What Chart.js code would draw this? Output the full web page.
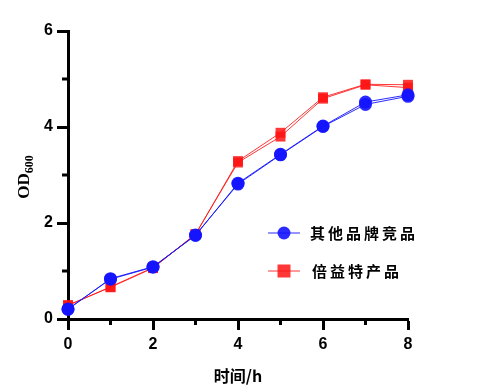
<!DOCTYPE html>
<html>
<head>
<meta charset="utf-8">
<script src="https://cdn.jsdelivr.net/npm/chart.js@4"></script>
<style>
  html, body { margin: 0; padding: 0; background: #fff; }
  #wrap { width: 502px; height: 390px; position: relative; }
</style>
</head>
<body>
<div id="wrap"><canvas id="growthChart" width="502" height="390"></canvas></div>
<script>
// time points (h)
const hours = [0, 1, 2, 3, 4, 5, 6, 7, 8];

// OD600 readings, two replicate curves per product
const otherBrandA = [0.21, 0.83, 1.08, 1.75, 2.81, 3.42, 4.01, 4.47, 4.64];
const otherBrandB = [0.20, 0.84, 1.09, 1.74, 2.83, 3.43, 4.02, 4.52, 4.67];
const beiyiteA = [0.29, 0.66, 1.06, 1.77, 3.26, 3.80, 4.59, 4.88, 4.82];
const beiyiteB = [0.28, 0.67, 1.07, 1.76, 3.29, 3.88, 4.62, 4.89, 4.88];

const seriesNames = ["其他品牌竞品", "倍益特产品"];
const blue = "rgba(20, 20, 255, 0.9)";
const red = "rgba(255, 20, 20, 0.85)";

const toPts = arr => arr.map((v, i) => ({ x: hours[i], y: v }));

function lineSet(label, arr, color, style, r) {
    return {
        label: label,
        data: toPts(arr),
        borderColor: color,
        backgroundColor: color,
        borderWidth: 1,
        pointStyle: style,
        pointRadius: r,
        pointBorderWidth: 0,
        clip: false
    };
}

// minor ticks and axis titles / legend drawn on the canvas
const decorations = {
    id: "decorations",
    afterDraw(chart) {
        const ctx = chart.ctx;
        const xs = chart.scales.x, ys = chart.scales.y;
        const area = chart.chartArea;
        ctx.save();
        ctx.strokeStyle = "#000";
        ctx.lineWidth = 3;
        [1, 3, 5].forEach(v => {
            const py = ys.getPixelForValue(v);
            ctx.beginPath(); ctx.moveTo(area.left - 6, py); ctx.lineTo(area.left, py); ctx.stroke();
        });
        [1, 3, 5, 7].forEach(v => {
            const px = xs.getPixelForValue(v);
            ctx.beginPath(); ctx.moveTo(px, area.bottom); ctx.lineTo(px, area.bottom + 6); ctx.stroke();
        });

        // y title OD600
        ctx.fillStyle = "#000";
        ctx.translate(25, 177);
        ctx.rotate(-Math.PI / 2);
        ctx.font = "bold 17px 'Liberation Serif'";
        const w1 = ctx.measureText("OD").width;
        ctx.font = "bold 12px 'Liberation Serif'";
        const w2 = ctx.measureText("600").width;
        const start = -(w1 + w2) / 2;
        ctx.textBaseline = "middle";
        ctx.textAlign = "left";
        ctx.font = "bold 17px 'Liberation Serif'";
        ctx.fillText("OD", start, 0);
        ctx.font = "bold 12px 'Liberation Serif'";
        ctx.fillText("600", start + w1, 5);
        ctx.setTransform(1, 0, 0, 1, 0, 0);

        // x title
        ctx.font = "bold 16px 'Noto Sans CJK SC', 'Liberation Serif'";
        ctx.textAlign = "center";
        ctx.fillText("时间/h", 238, 376);

        // legend
        const items = [
            { name: seriesNames[0], color: blue, style: "circle", y: 233, tx: 310 },
            { name: seriesNames[1], color: red, style: "rect", y: 271, tx: 312 }
        ];
        items.forEach(it => {
            ctx.strokeStyle = it.color;
            ctx.fillStyle = it.color;
            ctx.lineWidth = 1;
            ctx.beginPath(); ctx.moveTo(268, it.y); ctx.lineTo(300, it.y); ctx.stroke();
            if (it.style === "circle") {
                ctx.beginPath(); ctx.arc(284, it.y, 6.5, 0, Math.PI * 2); ctx.fill();
            } else {
                ctx.fillRect(277.5, it.y - 6.5, 13, 13);
            }
            ctx.fillStyle = "#000";
            ctx.font = "bold 15px 'Noto Sans CJK SC'";
            ctx.letterSpacing = "3px";
            ctx.textAlign = "left";
            ctx.textBaseline = "middle";
            ctx.fillText(it.name, it.tx, it.y);
            ctx.letterSpacing = "0px";
        });
        ctx.restore();
    }
};

const tickFont = { family: "'Liberation Sans', Arial", size: 16, weight: "bold" };

new Chart(document.getElementById("growthChart"), {
    type: "line",
    data: {
        datasets: [
            lineSet(seriesNames[0], otherBrandA, blue, "circle", 6.5),
            lineSet(seriesNames[0], otherBrandB, blue, "circle", 6.5),
            lineSet(seriesNames[1], beiyiteA, red, "rect", 7),
            lineSet(seriesNames[1], beiyiteB, red, "rect", 7)
        ]
    },
    options: {
        responsive: false,
        animation: false,
        layout: { padding: { top: 31, right: 94, left: 0, bottom: 0 } },
        plugins: { legend: { display: false }, tooltip: { enabled: false } },
        scales: {
            x: {
                type: "linear",
                min: 0, max: 8,
                afterFit: s => { s.height = 71; },
                border: { color: "#000", width: 3 },
                grid: { drawOnChartArea: false, tickLength: 11, tickWidth: 3, tickColor: "#000" },
                ticks: {
                    stepSize: 2, color: "#000", font: tickFont, padding: 5,
                    maxRotation: 0
                }
            },
            y: {
                min: 0, max: 6,
                afterFit: s => { s.width = 68; },
                border: { color: "#000", width: 3 },
                grid: { drawOnChartArea: false, tickLength: 11, tickWidth: 3, tickColor: "#000" },
                ticks: { stepSize: 2, color: "#000", font: tickFont, padding: 4 }
            }
        }
    },
    plugins: [decorations]
});
</script>
</body>
</html>
